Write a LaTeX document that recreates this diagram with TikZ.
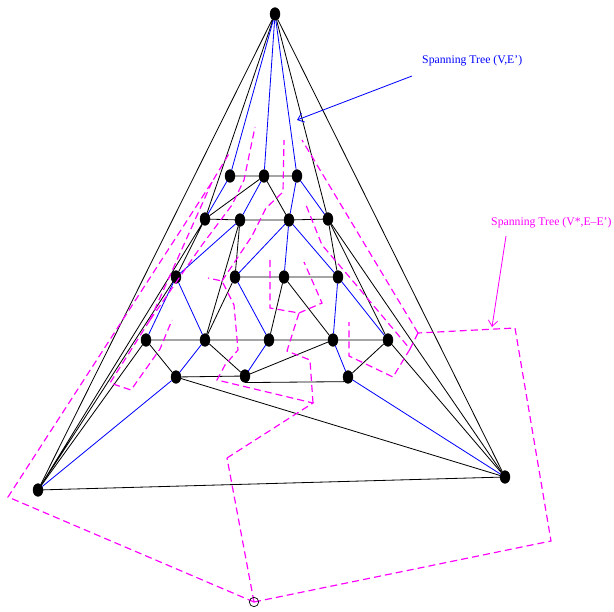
\documentclass[tikz,border=0pt]{standalone}
\usepackage{fontspec}
\setmainfont{Liberation Serif}
\usepackage{tikz}
\usetikzlibrary{arrows.meta, shapes.geometric}
\definecolor{treeblue}{RGB}{0,0,255}
\definecolor{cotree}{RGB}{255,0,255}

\begin{document}
\begin{tikzpicture}[x=0.03cm, y=-0.03cm,
  v/.style={draw, fill=black, ellipse, minimum width=0.3cm, minimum height=0.38cm, inner sep=0pt},
  e/.style={black, line width=0.7pt},
  t/.style={treeblue, line width=0.7pt},
  c/.style={cotree, line width=1pt, dash pattern=on 6pt off 3.5pt},
  lbl/.style={font=\fontsize{10}{12}\selectfont, inner sep=0pt, anchor=west}]
\useasboundingbox (0,0) rectangle (614,611);
% primal vertices
\node[v] (T) at (275,14) {};
\node[v] (L) at (38,490) {};
\node[v] (R) at (505,477) {};
\node[v] (a1) at (230,176) {};
\node[v] (a2) at (264,176) {};
\node[v] (a3) at (297,176) {};
\node[v] (b1) at (205,219) {};
\node[v] (b2) at (240,220) {};
\node[v] (b3) at (289,220) {};
\node[v] (b4) at (328,219) {};
\node[v] (c1) at (176,277) {};
\node[v] (c2) at (235,277) {};
\node[v] (c3) at (284,277) {};
\node[v] (c4) at (338,277) {};
\node[v] (d1) at (146,340) {};
\node[v] (d2) at (205,340) {};
\node[v] (d3) at (269,340) {};
\node[v] (d4) at (333,340) {};
\node[v] (d5) at (388,340) {};
\node[v] (e1) at (176,377) {};
\node[v] (e2) at (245,376) {};
\node[v] (e3) at (348,377) {};
% dual vertices (faces)
\coordinate (f0) at (254,602);
\coordinate (f1) at (212,182);
\coordinate (f2) at (230,152);
\coordinate (f3) at (255,127);
\coordinate (f4) at (284,140);
\coordinate (f5) at (302,140);
\coordinate (f6) at (418,333);
\coordinate (f7) at (244,180);
\coordinate (f8) at (232,205);
\coordinate (f9) at (266,208);
\coordinate (f10) at (283,192);
\coordinate (f11) at (306,205);
\coordinate (f12) at (150,320);
\coordinate (f13) at (202,245);
\coordinate (f14) at (110,383);
\coordinate (f15) at (172,320);
\coordinate (f16) at (208,278);
\coordinate (f17) at (222,281);
\coordinate (f18) at (252,236);
\coordinate (f19) at (270,258);
\coordinate (f20) at (304,262);
\coordinate (f21) at (322,245);
\coordinate (f22) at (270,308);
\coordinate (f23) at (234,305);
\coordinate (f24) at (299,313);
\coordinate (f25) at (322,303);
\coordinate (f26) at (349,322);
\coordinate (f27) at (352,280);
\coordinate (f28) at (410,349);
\coordinate (f29) at (393,377);
\coordinate (f30) at (349,356);
\coordinate (f31) at (310,360);
\coordinate (f32) at (287,351);
\coordinate (f33) at (238,350);
\coordinate (f34) at (225,365);
\coordinate (f35) at (160,349);
\coordinate (f36) at (131,390);
\coordinate (f37) at (227,458);
\coordinate (f38) at (217,380);
\coordinate (f39) at (313,403);
\coordinate (k1) at (8,497);
\coordinate (k2) at (551,541);
\coordinate (k3) at (515,328);
% non-tree edges
\draw[e] (T) -- (L) (T) -- (R) (L) -- (R) (T) -- (b1) (T) -- (b4);
\draw[e] (a1) -- (a2) -- (a3) (a2) -- (b1) (a2) -- (b3);
\draw[e] (b1) -- (b2) -- (b3) -- (b4) (b4) -- (R) (L) -- (b1) (b1) -- (c1) (L) -- (c1);
\draw[e] (b2) -- (c2) (b2) -- (d2) (b4) -- (c4) (b4) -- (d5) (c2) -- (c3) -- (c4);
\draw[e] (L) -- (d1) (c2) -- (d2) (c3) -- (d3) (c3) -- (d4);
\draw[e] (d1) -- (d2) -- (d3) -- (d4) -- (d5) (d5) -- (R);
\draw[e] (d1) -- (e1) (d2) -- (e2) (d4) -- (e2) (d5) -- (e3) (e1) -- (R);
\draw[e] (e1) -- (e2) (e2.south) -- (e3.south west);
% spanning tree (V,E')
\draw[t] (T) -- (a1) (T) -- (a2) (T) -- (a3) (a1) -- (b1) (a2) -- (b2) (a3) -- (b3) (a3) -- (b4);
\draw[t] (b2) -- (c1) (b3) -- (c2) (b3) -- (c3) (b3) -- (c4) (c1) -- (d1) (c1) -- (d2);
\draw[t] (c2) -- (d3) (c4) -- (d4) (c4) -- (d5) (d2) -- (e1) (d3) -- (e2) (d4) -- (e3);
\draw[t] (e3) -- (R) (e1) -- (L);
% spanning tree (V*,E-E')
\draw[c] (f0) -- (k1) -- (f1) -- (f2) (f1) -- (f12);
\draw[c] (f0) -- (k2) -- (k3) -- (f6) (f0) -- (f37);
\draw[c] (f12) -- (f13) -- (f8) -- (f7) -- (f3) (f12) -- (f14) -- (f36) -- (f35) -- (f15);
\draw[c] (f6) -- (f5) (f6) -- (f28) -- (f27) -- (f21) -- (f11) (f28) -- (f29) -- (f30) -- (f26);
\draw[c] (f37) -- (f39) -- (f38) -- (f34) -- (f33) -- (f23) -- (f17) -- (f16) (f17) -- (f18) -- (f9) -- (f10) -- (f4);
\draw[c] (f39) -- (f31) -- (f32) -- (f24) -- (f22) -- (f19) (f24) -- (f25) -- (f20);
\node[draw, circle, inner sep=0pt, minimum size=0.28cm, line width=0.6pt] (out) at (f0) {};
% labels
\node[lbl, text=treeblue] (lab1) at (422,61) {Spanning Tree (V,E')};
\node[lbl, text=cotree] (lab2) at (491,223) {Spanning Tree (V*,E--E')};
\coordinate (p1) at (412,76);
\coordinate (p2) at (297,120);
\coordinate (p3) at (506,236);
\coordinate (p4) at (492,327);
\draw[treeblue, line width=0.7pt, -{Straight Barb[length=5pt, width=8pt]}] (p1) -- (p2);
\draw[cotree, line width=0.7pt, -{Straight Barb[length=5pt, width=8pt]}] (p3) -- (p4);
\end{tikzpicture}
\end{document}
